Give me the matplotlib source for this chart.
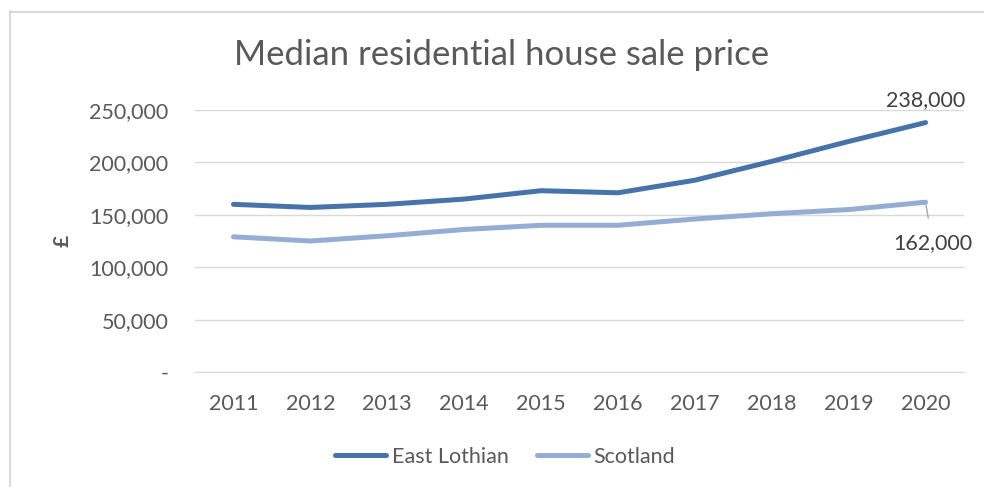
import matplotlib
matplotlib.use("Agg")
import matplotlib.pyplot as plt
from matplotlib.lines import Line2D

years = ["2011", "2012", "2013", "2014", "2015", "2016", "2017", "2018", "2019", "2020"]
east_lothian = [160000, 157000, 160000, 165000, 173000, 171000, 183000, 201000, 220000, 238000]
scotland = [129000, 125000, 130000, 136000, 140000, 140000, 146000, 151000, 155000, 162000]
yticks = [0, 50000, 100000, 150000, 200000, 250000]
ytick_labels = ["-", "50,000", "100,000", "150,000", "200,000", "250,000"]

plt.rcParams['font.family'] = ['Lato', 'DejaVu Sans']
text_color = "#595959"
c_el = "#4674AA"
c_sc = "#95ACD4"
grid_c = "#D9D9D9"
fs = 15.5

fig = plt.figure(figsize=(9.84, 4.87), dpi=100)
# outer border (only top and left visible)
fig.add_artist(Line2D([10/984, 10/984], [0, 1 - 11/487], transform=fig.transFigure, color="#D9D9D9", lw=1.5))
fig.add_artist(Line2D([10/984, 1], [1 - 11.5/487, 1 - 11.5/487], transform=fig.transFigure, color="#D9D9D9", lw=1.5))

ax = fig.add_axes([195/984, 1 - 372/487, 769/984, 262/487])
x = list(range(len(years)))
ax.plot(x, east_lothian, color=c_el, lw=3.6, solid_capstyle="round", label="East Lothian", zorder=3)
ax.plot(x, scotland, color=c_sc, lw=3.6, solid_capstyle="round", label="Scotland", zorder=3)

ax.set_xlim(-0.5, len(years) - 0.5)
ax.set_ylim(0, 250000)
ax.set_yticks(yticks)
ax.set_yticklabels(ytick_labels)
ax.set_xticks(x)
ax.set_xticklabels(years)
ax.tick_params(axis="both", length=0, labelsize=fs, colors=text_color)
ax.tick_params(axis="y", pad=19)
ax.tick_params(axis="x", pad=16)
ax.grid(axis="y", color=grid_c, lw=1)
ax.set_axisbelow(True)
for s in ["top", "right", "left"]:
    ax.spines[s].set_visible(False)
ax.spines["bottom"].set_color(grid_c)

ax.set_ylabel("£", fontsize=15, fontweight="bold", color=text_color)
ax.yaxis.set_label_coords(-122/769, 0.5)

fig.text(502/984, 1 - 55/487, "Median residential house sale price", ha="center", va="center",
         fontsize=25, color=text_color)

# data labels
ax.annotate(f"{east_lothian[-1]:,}", xy=(x[-1], east_lothian[-1]), xytext=(0, 16.5),
            textcoords="offset points", ha="center", va="center", fontsize=fs, color="#404040")
ax.annotate(f"{scotland[-1]:,}", xy=(x[-1], scotland[-1]), xytext=(5, -29.5),
            textcoords="offset points", ha="center", va="center", fontsize=fs, color="#404040",
            arrowprops=dict(arrowstyle="-", color="#A6A6A6", lw=1, shrinkA=9, shrinkB=2))

handles = [Line2D([], [], color=c_el, lw=3.6, solid_capstyle="round"),
           Line2D([], [], color=c_sc, lw=3.6, solid_capstyle="round")]
fig.legend(handles, ["East Lothian", "Scotland"], loc="center", bbox_to_anchor=(505/984, 1 - 457/487),
           ncol=2, frameon=False, fontsize=fs, labelcolor=text_color, handlelength=2.4,
           handletextpad=0.25, columnspacing=1.3)

fig.savefig("out.png", dpi=100, facecolor="white")
